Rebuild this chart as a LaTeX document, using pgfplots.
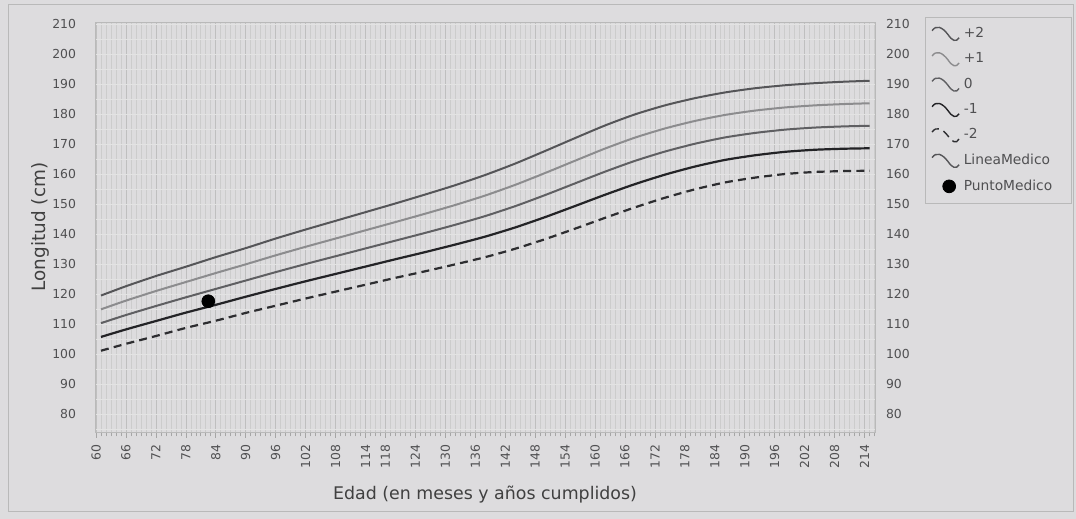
\documentclass[border=0pt]{standalone}
\usepackage{pgfplots}
\pgfplotsset{compat=1.18}
\usepackage{pgfplotstable}
\usepackage{fontspec}
\setmainfont{DejaVu Sans}
\definecolor{bg}{RGB}{221,220,222}
\definecolor{cP2}{RGB}{85,85,88}
\definecolor{cP1}{RGB}{140,140,142}
\definecolor{cZ}{RGB}{95,95,98}
\definecolor{cM1}{RGB}{35,35,38}
\definecolor{cM2}{RGB}{45,45,48}
\definecolor{txt}{RGB}{80,80,82}
\pgfplotsset{squig/.style={legend image code/.code={%
  \draw[##1, line width=0.7pt] (0pt,1.5pt) .. controls (2pt,4.5pt) and (5pt,3.5pt) .. (8pt,-0.5pt) .. controls (10pt,-3.5pt) and (12pt,-4.5pt) .. (13.5pt,-2pt);}}}

\pgfplotstableread{
m    m2     m1     z      p1     p2
61   101.1  105.7  110.3  114.9  119.5
66   103.4  108.2  113.0  117.8  122.6
72   106.0  111.0  116.0  121.0  126.0
78   108.7  113.8  118.9  124.0  129.1
84   111.1  116.4  121.7  127.0  132.3
90   113.7  119.1  124.5  129.9  135.3
96   116.1  121.7  127.3  132.9  138.5
102  118.5  124.25 130.0  135.75 141.5
108  120.8  126.7  132.6  138.5  144.4
114  123.1  129.15 135.2  141.25 147.3
120  125.4  131.6  137.8  144.0  150.2
126  127.6  134.0  140.4  146.8  153.2
132  129.9  136.5  143.1  149.7  156.3
138  132.3  139.15 146.0  152.85 159.7
144  135.1  142.2  149.3  156.4  163.5
150  138.3  145.65 153.0  160.35 167.7
156  141.8  149.35 156.9  164.45 172.0
162  145.4  153.1  160.8  168.5  176.2
168  148.9  156.65 164.4  172.15 179.9
174  152.1  159.8  167.5  175.2  182.9
180  154.9  162.5  170.1  177.7  185.3
186  157.2  164.7  172.2  179.7  187.2
192  158.8  166.25 173.7  181.15 188.6
198  160.0  167.4  174.8  182.2  189.6
204  160.7  168.1  175.5  182.9  190.3
210  161.0  168.45 175.9  183.35 190.8
215  161.1  168.6  176.1  183.6  191.1
}\growth

\begin{document}
\begin{tikzpicture}[x=1pt,y=1pt]
\fill[bg] (0,0) rectangle (538,259.5);
\useasboundingbox (0,0) rectangle (538,259.5);
\draw[gray!55, line width=0.5pt] (4,3.5) rectangle (536.5,257);
\begin{axis}[
  at={(47.5pt,43.5pt)}, anchor=south west,
  scale only axis, width=390pt, height=205pt,
  xmin=59.8, xmax=216.1, ymin=74, ymax=210.7,
  xtick={60,66,72,78,84,90,96,102,108,114,118,124,130,136,142,148,154,160,166,172,178,184,190,196,202,208,214},
  minor xtick={60,61,...,216},
  ytick={80,90,...,210},
  minor ytick={75,85,...,205},
  grid=both,
  major grid style={gray!50, line width=0.3pt},
  minor grid style={gray!40, line width=0.3pt},
  y grid style={gray!22, line width=0.3pt},
  axis line style={gray!55, line width=0.4pt},
  tick align=outside, tick pos=left,
  xtick style={gray!70, line width=0.3pt},
  ytick style={draw=none},
  major tick length=3pt, minor tick length=2.2pt,
  /pgf/number format/assume math mode=true,
  xticklabel style={rotate=90, anchor=east, font=\fontsize{6.2}{7}\selectfont, text=txt},
  yticklabel style={font=\fontsize{6.2}{7}\selectfont, text=txt, xshift=-3pt},
  xlabel={Edad (en meses y años cumplidos)},
  ylabel={Longitud (cm)},
  xlabel style={font=\fontsize{8.7}{10}\selectfont, text=black!75, yshift=-2pt},
  ylabel style={font=\fontsize{9.2}{10}\selectfont, text=black!75, yshift=-5.5pt},
  legend style={at={(1.0641,1.013)}, anchor=north west, draw=gray!55, fill=none,
    font=\fontsize{6.9}{7}\selectfont, text=txt, row sep=2.1pt, inner xsep=3pt, inner ysep=3pt,
    /tikz/column 2/.style={text width=49pt}},
  legend cell align=left,
]
\addplot[cP2, line width=1pt, smooth, tension=0.4, squig] table[x=m, y=p2] {\growth};
\addlegendentry{+2}
\addplot[cP1, line width=1pt, smooth, tension=0.4, squig] table[x=m, y=p1] {\growth};
\addlegendentry{+1}
\addplot[cZ, line width=1pt, smooth, tension=0.4, squig] table[x=m, y=z] {\growth};
\addlegendentry{0}
\addplot[cM1, line width=1.1pt, smooth, tension=0.4, squig] table[x=m, y=m1] {\growth};
\addlegendentry{-1}
\addplot[cM2, line width=1.1pt, smooth, tension=0.4, dash pattern=on 4pt off 2.6pt, squig] table[x=m, y=m2] {\growth};
\addlegendentry{-2}
\addlegendimage{cP2, line width=1pt, squig}
\addlegendentry{LineaMedico}
\addplot[only marks, mark=*, mark size=3.2pt, black] coordinates {(82.5,117.6)};
\addlegendentry{PuntoMedico}
\end{axis}
\begin{axis}[
  at={(47.5pt,43.5pt)}, anchor=south west,
  scale only axis, width=390pt, height=205pt,
  xmin=59.8, xmax=216.1, ymin=74, ymax=210.7,
  axis x line=none, axis y line*=right,
  y axis line style={draw=none},
  ytick={80,90,...,210}, ytick style={draw=none},
  /pgf/number format/assume math mode=true,
  yticklabel style={font=\fontsize{6.2}{7}\selectfont, text=txt, xshift=2pt},
]
\addplot[draw=none] coordinates {(100,100)};
\end{axis}
\end{tikzpicture}
\end{document}
